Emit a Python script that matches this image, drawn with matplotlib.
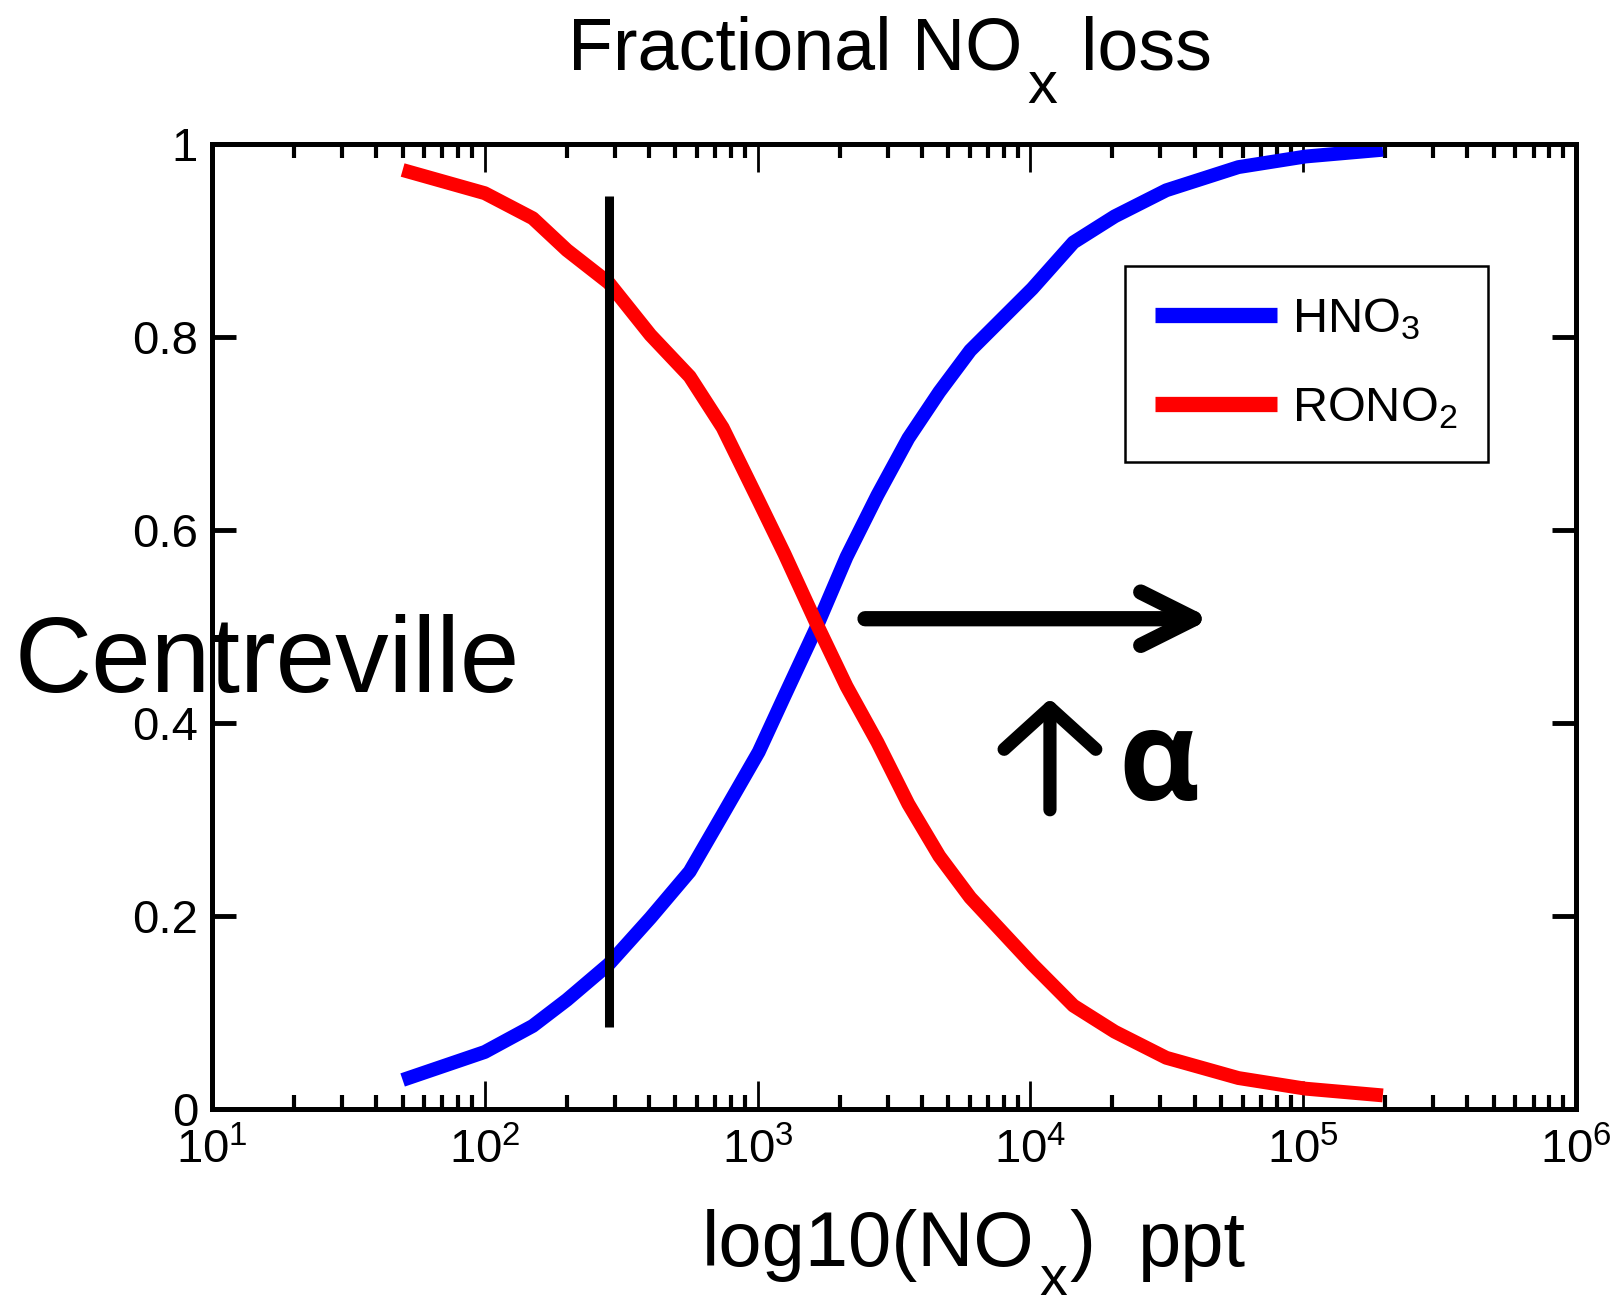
import numpy as np
import matplotlib
matplotlib.use("Agg")
import matplotlib.pyplot as plt
from matplotlib.ticker import FixedLocator, FixedFormatter, LogLocator

plt.rcParams['font.family'] = ['Liberation Sans', 'DejaVu Sans']
plt.rcParams['mathtext.fontset'] = 'custom'
plt.rcParams['mathtext.rm'] = 'Liberation Sans'
plt.rcParams['mathtext.it'] = 'Liberation Sans:italic'
plt.rcParams['mathtext.bf'] = 'Liberation Sans:bold'

# NOx (ppt) and fraction of NOx loss going to each product
nox = [50, 100, 150, 200, 285, 405, 564, 745, 1010, 1256, 1632, 2119, 2750,
       3571, 4638, 6023, 10160, 14390, 20390, 31500, 57900, 102000, 196000]
hno3 = [0.030, 0.059, 0.086, 0.113, 0.150, 0.198, 0.246, 0.305, 0.370, 0.428,
        0.497, 0.572, 0.636, 0.695, 0.743, 0.786, 0.850, 0.898, 0.925, 0.952,
        0.976, 0.987, 0.994]
rono2 = [0.973, 0.949, 0.923, 0.890, 0.856, 0.802, 0.759, 0.706, 0.630, 0.575,
         0.505, 0.438, 0.380, 0.316, 0.262, 0.219, 0.150, 0.107, 0.080, 0.053,
         0.032, 0.021, 0.014]

centreville_nox = 285
yticks = [0, 0.2, 0.4, 0.6, 0.8, 1]
ytick_labels = ['0', '0.2', '0.4', '0.6', '0.8', '1']

W, H = 1618, 1304
fig = plt.figure(figsize=(W / 100, H / 100), dpi=100)
ax = fig.add_axes([0.1310, 0.1496, 0.8430, 0.7400])

ax.plot(nox, hno3, color=(0, 0, 1), lw=10, solid_capstyle='butt',
        label=r'HNO$_\mathrm{3}$')
ax.plot(nox, rono2, color=(1, 0, 0), lw=10, solid_capstyle='butt',
        label=r'RONO$_\mathrm{2}$')
ax.plot([centreville_nox, centreville_nox], [0.085, 0.946], color='k', lw=6.5,
        solid_capstyle='butt')

ax.set_xscale('log')
ax.set_xlim(10, 1e6)
ax.set_ylim(0, 1)
ax.yaxis.set_major_locator(FixedLocator(yticks))
ax.yaxis.set_major_formatter(FixedFormatter(ytick_labels))
ax.xaxis.set_major_locator(LogLocator(base=10, numticks=10))
ax.xaxis.set_minor_locator(LogLocator(base=10, subs=np.arange(2, 10), numticks=20))

for s in ax.spines.values():
    s.set_linewidth(3.6)
ax.tick_params(axis='y', which='major', direction='in', length=17, width=3.5,
               left=True, right=True, labelsize=34, pad=10)
ax.tick_params(axis='x', which='major', direction='in', length=20, width=2,
               top=True, bottom=True, labelsize=34, pad=14)
ax.tick_params(axis='x', which='minor', direction='in', length=10, width=3,
               top=True, bottom=True)

leg = ax.legend(loc='upper right', bbox_to_anchor=(0.9355, 0.8736),
                borderaxespad=0, fontsize=35, handlelength=2.5,
                handletextpad=0.32, fancybox=False, edgecolor='k',
                framealpha=1, labelspacing=0.9, borderpad=0.62)
leg.get_frame().set_linewidth(1.8)
for ln in leg.get_lines():
    ln.set_linewidth(11)


def draw_parts(cx, base, parts):
    # MATLAB style text: pieces with big, deep subscripts, centred on cx (pixels)
    renderer = fig.canvas.get_renderer()
    arts, widths = [], []
    for s, fs, dy, gap in parts:
        t = fig.text(0, 0, s, fontsize=fs, ha='left', va='baseline')
        widths.append(t.get_window_extent(renderer).width)
        arts.append(t)
    total = sum(widths) + sum(p[3] for p in parts)
    x = cx - total / 2
    for t, w, (s, fs, dy, gap) in zip(arts, widths, parts):
        x += gap
        t.set_position((x / W, (base + dy) / H))
        x += w


draw_parts(890, H - 70, [('Fractional NO', 53, 0, 0), ('x', 43, -33, 5),
                         ('loss', 53, 0, 24)])
draw_parts(974, H - 1266, [('log10(NO', 56, 0, 0), ('x', 40, -29, 4),
                           (')', 56, 0, 3), ('ppt', 56, 0, 42)])

fig.text(15 / W, 1 - 692 / H, 'Centreville', ha='left', va='baseline',
         fontsize=77)

# arrows and alpha
ax.annotate('', xy=(46000, 0.508), xytext=(2477, 0.508),
            arrowprops=dict(arrowstyle='->, head_length=0.8, head_width=0.4',
                            mutation_scale=48, lw=11, color='k',
                            capstyle='round', joinstyle='round',
                            shrinkA=0, shrinkB=0))
ax.annotate('', xy=(11800, 0.425), xytext=(11800, 0.310),
            arrowprops=dict(arrowstyle='->, head_length=0.68, head_width=0.75',
                            mutation_scale=44, lw=9.5, color='k',
                            capstyle='round', joinstyle='round',
                            shrinkA=0, shrinkB=0))
ax.text(21000, 0.320, '\u03b1', ha='left', va='baseline', fontsize=90,
        fontweight='bold', family=['Open Sans', 'DejaVu Sans'])

fig.savefig('out.png', dpi=100)
